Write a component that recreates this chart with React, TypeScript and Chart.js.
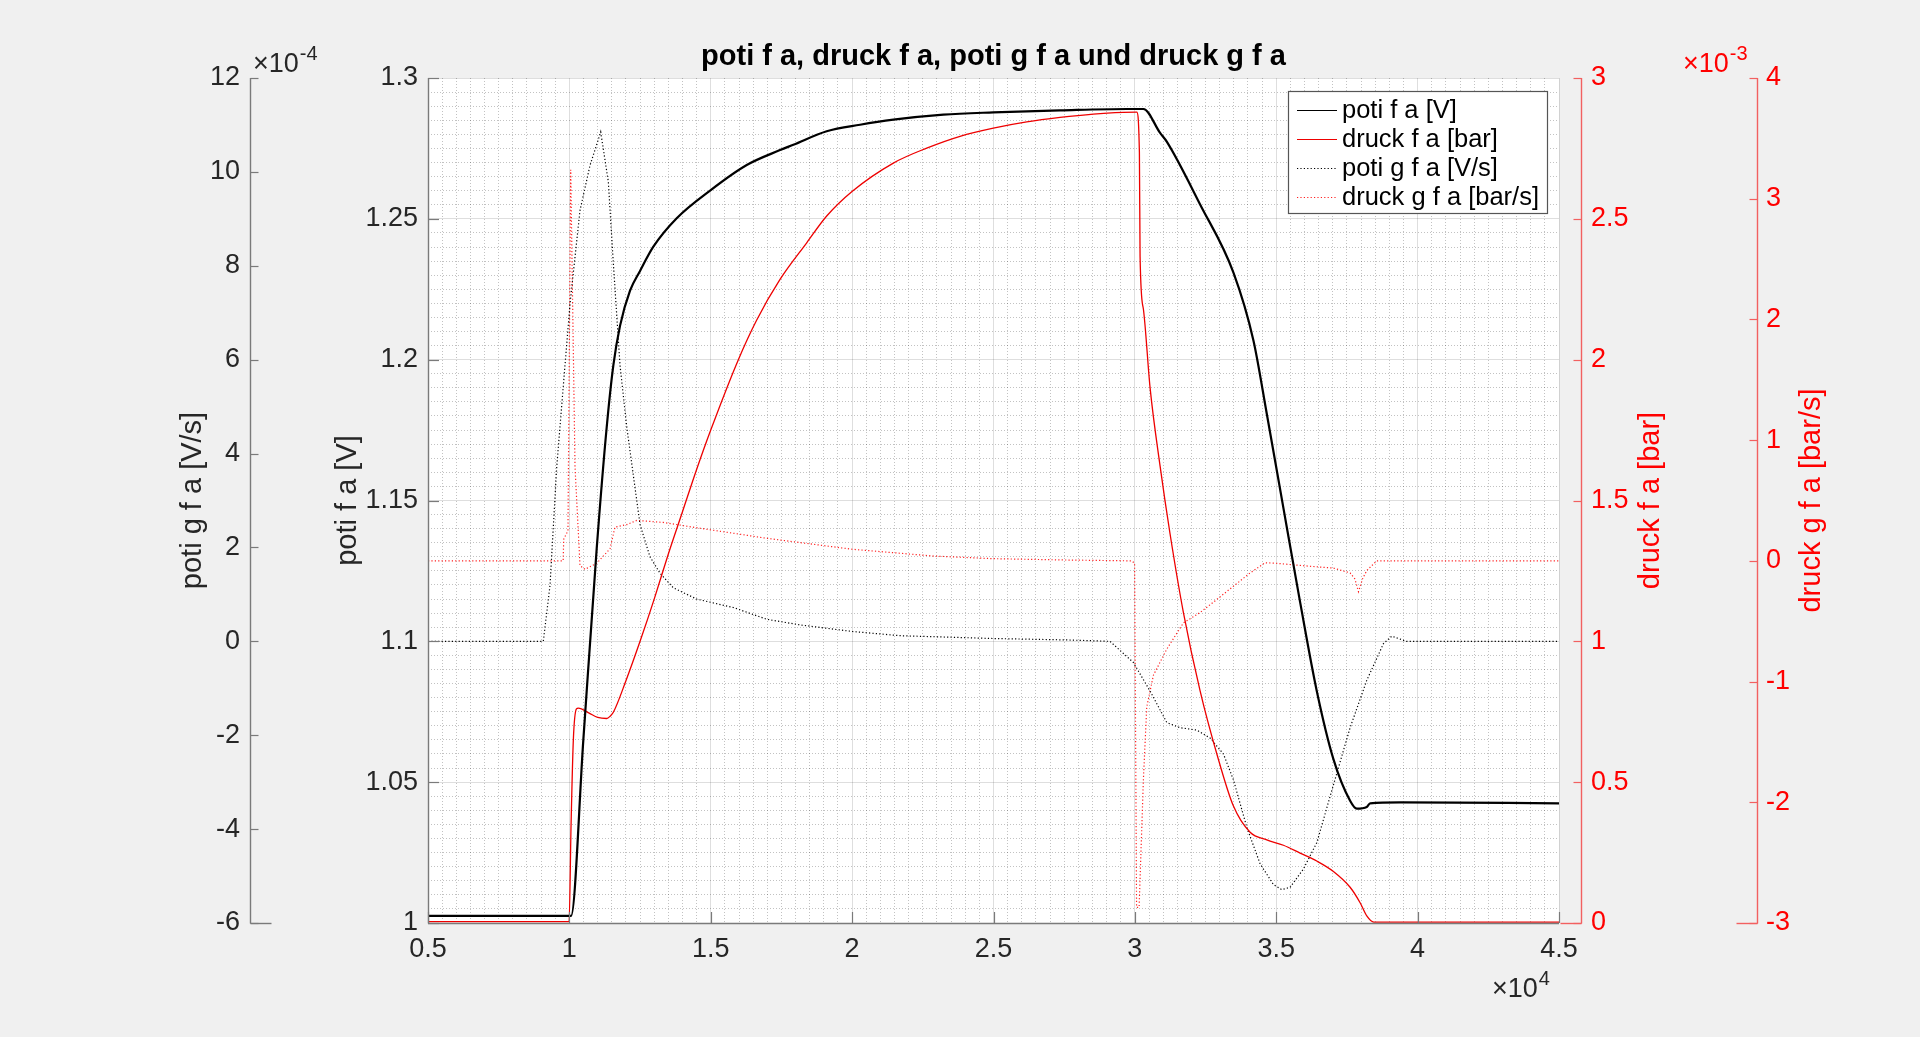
import React, { useEffect, useRef } from "react";
import { Chart, registerables } from "chart.js";

Chart.register(...registerables);

const FONT = "'Liberation Sans', Arial, Helvetica, sans-serif";

// ---------- data (x = sample index) ----------
const potiX = [5000, 10060, 10494, 10967, 11320, 11555, 11791, 12145, 12499, 12970, 13796, 15000, 16272, 17450, 17921, 19101, 20280, 21458, 23227, 24995, 27354, 29713, 30302, 30892, 31128, 32307, 33486, 34193, 34665, 35254, 35844, 36433, 37022, 37612, 37848, 38202, 38320, 39381, 45000];
const potiV = [1.0025, 1.0025, 1.065, 1.133, 1.176, 1.198, 1.212, 1.2245, 1.2315, 1.2401, 1.2502, 1.2602, 1.2691, 1.2744, 1.2763, 1.2811, 1.2834, 1.2852, 1.287, 1.2878, 1.2885, 1.289, 1.289, 1.2805, 1.2774, 1.2551, 1.2309, 1.2068, 1.1808, 1.1473, 1.1139, 1.0824, 1.0582, 1.0434, 1.0406, 1.0412, 1.0425, 1.0428, 1.0425];

const druckX = [5000, 9990, 10060, 10140, 10250, 10317, 10700, 11000, 11320, 11450, 11555, 12000, 12500, 13000, 13500, 14000, 14500, 15000, 15976, 16626, 17450, 18394, 19101, 20007, 21458, 22638, 23817, 24995, 26175, 27354, 28532, 29593, 30066, 30160, 30184, 30302, 30538, 30892, 31245, 31717, 32307, 32897, 33486, 34075, 34665, 35254, 35844, 36433, 37022, 37612, 37966, 38202, 38450, 45000];
const druckBar = [0.005, 0.005, 0.35, 0.65, 0.76, 0.763, 0.745, 0.73, 0.726, 0.735, 0.748, 0.86, 1.0, 1.15, 1.31, 1.46, 1.61, 1.75, 2.0, 2.141, 2.285, 2.415, 2.51, 2.598, 2.698, 2.751, 2.793, 2.822, 2.844, 2.86, 2.872, 2.878, 2.879, 2.736, 2.365, 2.179, 1.9, 1.622, 1.381, 1.102, 0.824, 0.601, 0.415, 0.322, 0.295, 0.276, 0.248, 0.22, 0.183, 0.127, 0.072, 0.025, 0.003, 0.003];

// poti g f a in units of 1e-4 V/s
const potiGX = [5000, 9078, 9315, 9552, 9787, 10023, 10376, 10730, 11108, 11378, 11555, 11791, 12027, 12263, 12499, 12852, 13206, 13677, 14504, 15799, 16980, 18158, 20007, 21695, 24995, 27590, 29120, 29947, 30538, 31128, 31600, 32189, 32660, 33132, 33486, 33958, 34429, 34901, 35195, 35490, 35961, 36433, 37022, 37612, 38202, 38791, 39086, 39320, 39600, 45000];
const potiG = [0, 0, 1.19, 3.71, 5.45, 7.19, 9.18, 10.14, 10.85, 9.79, 8.05, 5.88, 4.58, 3.53, 2.49, 1.8, 1.45, 1.14, 0.9, 0.72, 0.47, 0.35, 0.21, 0.12, 0.06, 0.03, 0, -0.45, -1.06, -1.73, -1.84, -1.89, -2.06, -2.4, -2.95, -3.96, -4.74, -5.18, -5.29, -5.24, -4.85, -4.29, -3.06, -1.84, -0.83, -0.05, 0.11, 0.06, 0, 0];

// druck g f a in units of 1e-3 bar/s
const druckGX = [5000, 9780, 9800, 9950, 10047, 10199, 10376, 10553, 10967, 11437, 11614, 12027, 12381, 13323, 14621, 16980, 20007, 22872, 24995, 27590, 29890, 29990, 30060, 30150, 30302, 30420, 30656, 31128, 31717, 32307, 32897, 33486, 34075, 34606, 35000, 35844, 37022, 37612, 37780, 37907, 38050, 38202, 38556, 45000];
const druckG = [0, 0, 0.18, 0.25, 3.24, 0.78, -0.04, -0.07, -0.02, 0.1, 0.28, 0.3, 0.335, 0.318, 0.27, 0.187, 0.096, 0.04, 0.018, 0.007, 0, -0.02, -2.87, -2.87, -1.81, -1.21, -0.947, -0.731, -0.514, -0.428, -0.32, -0.21, -0.1, -0.016, -0.02, -0.038, -0.06, -0.1, -0.15, -0.255, -0.15, -0.08, 0, 0];

const seriesLabels = ["poti f a [V]", "druck f a [bar]", "poti g f a [V/s]", "druck g f a [bar/s]"];
const axisTitles = ["poti f a [V]", "poti g f a [V/s]", "druck f a [bar]", "druck g f a [bar/s]"];
const chartTitle = "poti f a, druck f a, poti g f a und druck g f a";

// axis ranges / ticks
const xRange = [5000, 45000];
const xStep = 5000;
const xMinorStep = 500;
const potiRange = [1.0, 1.3];
const potiStep = 0.05;
const potiMinorStep = 0.005;
const potiGRange = [-6, 12];
const potiGStep = 2;
const druckRange = [0, 3];
const druckStep = 0.5;
const druckGRange = [-3, 4];
const druckGStep = 1;

const GRAY_AXIS = "#7a7a7a";
const RED_AXIS = "#f26060";
const TXT = "#262626";
const RED = "#ff0000";
const TICK_SIZE = 27;
const LABEL_SIZE = 29;

const fmt = (v: number) => String(parseFloat(Number(v).toFixed(4)));
const pts = (xs: number[], ys: number[]) => xs.map((x, i) => ({ x, y: ys[i] }));

const isMultiple = (v: number, step: number) => Math.abs(v / step - Math.round(v / step)) < 1e-6;

function line(ctx: CanvasRenderingContext2D, x1: number, y1: number, x2: number, y2: number, color: string, w = 1) {
  ctx.save();
  ctx.strokeStyle = color;
  ctx.lineWidth = w;
  ctx.setLineDash([]);
  ctx.beginPath();
  ctx.moveTo(x1, y1);
  ctx.lineTo(x2, y2);
  ctx.stroke();
  ctx.restore();
}

function drawExp(ctx: CanvasRenderingContext2D, x: number, base: number, exp: string, color: string) {
  ctx.save();
  ctx.fillStyle = color;
  ctx.textAlign = "left";
  ctx.textBaseline = "alphabetic";
  ctx.font = `27px ${FONT}`;
  ctx.fillText("×10", x, base);
  const w = ctx.measureText("×10").width;
  ctx.font = `20px ${FONT}`;
  ctx.fillText(exp, x + w + 1, base - 12);
  ctx.restore();
}

function drawVTitle(ctx: CanvasRenderingContext2D, text: string, cx: number, cy: number, color: string) {
  ctx.save();
  ctx.translate(cx, cy);
  ctx.rotate(-Math.PI / 2);
  ctx.fillStyle = color;
  ctx.font = `${LABEL_SIZE}px ${FONT}`;
  ctx.textAlign = "center";
  ctx.textBaseline = "middle";
  ctx.fillText(text, 0, 0);
  ctx.restore();
}

const matlabPlugin = {
  id: "matlabLook",
  beforeDraw(chart: any) {
    const { ctx, chartArea: a } = chart;
    ctx.save();
    ctx.fillStyle = "#f0f0f0";
    ctx.fillRect(0, 0, chart.width, chart.height);
    ctx.fillStyle = "#ffffff";
    ctx.fillRect(a.left, a.top, a.right - a.left, a.bottom - a.top);
    ctx.restore();
  },
  afterDatasetsDraw(chart: any) {
    const { ctx, chartArea: a, scales } = chart;
    // main axes
    line(ctx, a.left + 0.5, a.top, a.left + 0.5, a.bottom + 0.5, GRAY_AXIS, 1.4);
    line(ctx, a.left, a.bottom + 0.5, a.right, a.bottom + 0.5, GRAY_AXIS, 1.4);
    scales.y.ticks.forEach((t: any) => {
      const py = Math.round(scales.y.getPixelForValue(t.value)) + 0.5;
      line(ctx, a.left, py, a.left + 11, py, GRAY_AXIS, 1.2);
    });
    scales.x.ticks.forEach((t: any) => {
      const px = Math.round(scales.x.getPixelForValue(t.value)) + 0.5;
      line(ctx, px, a.bottom, px, a.bottom - 11, GRAY_AXIS, 1.2);
    });
    // secondary axes
    const sec = (scale: any, ax: number, dir: number, color: string) => {
      line(ctx, ax, a.top, ax, a.bottom + 0.5, color, 1.4);
      scale.ticks.forEach((t: any) => {
        const py = Math.round(scale.getPixelForValue(t.value)) + 0.5;
        line(ctx, ax, py, ax + dir * 8, py, color, 1.2);
      });
      line(ctx, ax, a.bottom + 0.5, ax + dir * 21, a.bottom + 0.5, color, 1.4);
    };
    sec(scales.y2, scales.y2.right + 0.5, 1, GRAY_AXIS);
    sec(scales.y3, a.right + 22.5, -1, RED_AXIS);
    sec(scales.y4, scales.y4.left + 0.5, -1, RED_AXIS);
  },
  afterDraw(chart: any) {
    const { ctx, chartArea: a, scales } = chart;
    const midY = (a.top + a.bottom) / 2;
    // right axis titles (read bottom-to-top as in the reference)
    drawVTitle(ctx, axisTitles[2], scales.y3.left + 92, midY, RED);
    drawVTitle(ctx, axisTitles[3], scales.y4.left + 55, midY, RED);

    // exponent labels
    drawExp(ctx, scales.y2.right + 3, a.top - 6, "-4", TXT);
    drawExp(ctx, scales.y4.left - 74, a.top - 6, "-3", RED);
    drawExp(ctx, a.right - 67, a.bottom + 74, "4", TXT);

    // legend
    const bx = a.right - 271;
    const by = a.top + 13;
    const bw = 259;
    const bh = 122;
    ctx.save();
    ctx.fillStyle = "#ffffff";
    ctx.fillRect(bx, by, bw, bh);
    ctx.strokeStyle = "#555555";
    ctx.lineWidth = 1.2;
    ctx.strokeRect(bx + 0.5, by + 0.5, bw, bh);
    ctx.font = `25.5px ${FONT}`;
    ctx.textBaseline = "middle";
    ctx.textAlign = "left";
    chart.data.datasets.forEach((ds: any, i: number) => {
      const cy = by + 19 + i * 29;
      ctx.save();
      ctx.strokeStyle = ds.borderColor;
      ctx.lineWidth = 1;
      ctx.setLineDash(ds.borderDash || []);
      ctx.beginPath();
      ctx.moveTo(bx + 9, cy + 0.5);
      ctx.lineTo(bx + 49, cy + 0.5);
      ctx.stroke();
      ctx.restore();
      ctx.fillStyle = "#000000";
      ctx.fillText(ds.label, bx + 54, cy + 1);
    });
    ctx.restore();
  },
};

export default function App() {
  const ref = useRef<HTMLCanvasElement | null>(null);

  useEffect(() => {
    document.body.style.margin = "0";
    document.body.style.background = "#f0f0f0";
    if (!ref.current) return;
    Chart.defaults.font.family = FONT;

    const tickFont = { size: TICK_SIZE, family: FONT };
    const titleFont = { size: LABEL_SIZE, family: FONT };
    const minorColor = "rgba(0,0,0,0.24)";
    const majorColor = "rgba(0,0,0,0.13)";

    const chart = new Chart(ref.current, {
      type: "line",
      data: {
        datasets: [
          {
            label: seriesLabels[0],
            data: pts(potiX, potiV),
            xAxisID: "x",
            yAxisID: "y",
            borderColor: "#000000",
            borderWidth: 2.2,
            pointRadius: 0,
            cubicInterpolationMode: "monotone",
            fill: false,
          },
          {
            label: seriesLabels[1],
            data: pts(druckX, druckBar),
            xAxisID: "x",
            yAxisID: "y3",
            borderColor: "#ee0000",
            borderWidth: 1.3,
            pointRadius: 0,
            cubicInterpolationMode: "monotone",
            fill: false,
          },
          {
            label: seriesLabels[2],
            data: pts(potiGX, potiG),
            xAxisID: "x",
            yAxisID: "y2",
            borderColor: "#000000",
            borderWidth: 1.2,
            borderDash: [1.2, 2.2],
            pointRadius: 0,
            tension: 0,
            fill: false,
          },
          {
            label: seriesLabels[3],
            data: pts(druckGX, druckG),
            xAxisID: "x",
            yAxisID: "y4",
            borderColor: "#ff2020",
            borderWidth: 1.2,
            borderDash: [1.2, 2.2],
            pointRadius: 0,
            tension: 0,
            fill: false,
          },
        ],
      },
      options: {
        animation: false,
        responsive: false,
        maintainAspectRatio: false,
        layout: { padding: 0 },
        events: [],
        plugins: {
          legend: { display: false },
          tooltip: { enabled: false },
          title: {
            display: true,
            text: chartTitle,
            fullSize: false,
            color: "#000000",
            font: { size: 29, weight: "bold", family: FONT },
            padding: { top: 40, bottom: 3.2 },
          },
        },
        scales: {
          x: {
            type: "linear",
            position: "bottom",
            min: xRange[0],
            max: xRange[1],
            weight: 0,
            ticks: {
              stepSize: xStep,
              font: tickFont,
              color: TXT,
              padding: 10,
              maxRotation: 0,
              autoSkip: false,
              callback: (v: any) => fmt(Number(v) / 1e4),
            },
            grid: { color: majorColor, lineWidth: 1, drawTicks: false },
            border: { display: false },
            afterFit: (s: any) => {
              s.height = 114;
            },
          },
          xm: {
            type: "linear",
            position: "bottom",
            min: xRange[0],
            max: xRange[1],
            weight: 5,
            ticks: { display: false, stepSize: xMinorStep },
            grid: {
              drawTicks: false,
              lineWidth: 1,
              color: (c: any) => (c.tick && isMultiple(c.tick.value, xStep) ? "rgba(0,0,0,0)" : minorColor),
            },
            border: { display: false, dash: [1, 2] },
            afterFit: (s: any) => {
              s.height = 0;
            },
          },
          y: {
            type: "linear",
            position: "left",
            min: potiRange[0],
            max: potiRange[1],
            weight: 0,
            ticks: {
              stepSize: potiStep,
              font: tickFont,
              color: TXT,
              padding: 10,
              callback: (v: any) => fmt(v),
            },
            grid: { color: majorColor, lineWidth: 1, drawTicks: false },
            border: { display: false },
            title: {
              display: true,
              text: axisTitles[0],
              font: titleFont,
              color: TXT,
              padding: { top: 80.6, bottom: 0 },
            },
            afterFit: (s: any) => {
              s.width = 178;
            },
          },
          ym: {
            type: "linear",
            position: "left",
            min: potiRange[0],
            max: potiRange[1],
            weight: -1,
            ticks: { display: false, stepSize: potiMinorStep },
            grid: {
              drawTicks: false,
              lineWidth: 1,
              color: (c: any) => (c.tick && isMultiple(c.tick.value, potiStep) ? "rgba(0,0,0,0)" : minorColor),
            },
            border: { display: false, dash: [1, 2] },
            afterFit: (s: any) => {
              s.width = 0;
            },
          },
          y2: {
            type: "linear",
            position: "left",
            min: potiGRange[0],
            max: potiGRange[1],
            weight: 1,
            ticks: {
              stepSize: potiGStep,
              font: tickFont,
              color: TXT,
              padding: 10,
              callback: (v: any) => fmt(v),
            },
            grid: { display: false, drawTicks: false },
            border: { display: false },
            title: {
              display: true,
              text: axisTitles[1],
              font: titleFont,
              color: TXT,
              padding: { top: 175.6, bottom: 0 },
            },
            afterFit: (s: any) => {
              s.width = 250;
            },
          },
          y3: {
            type: "linear",
            position: "right",
            min: druckRange[0],
            max: druckRange[1],
            weight: 0,
            ticks: {
              stepSize: druckStep,
              font: tickFont,
              color: RED,
              padding: 32,
              callback: (v: any) => fmt(v),
            },
            grid: { display: false, drawTicks: false },
            border: { display: false },
            title: { display: false },
            afterFit: (s: any) => {
              s.width = 198;
            },
          },
          y4: {
            type: "linear",
            position: "right",
            min: druckGRange[0],
            max: druckGRange[1],
            weight: 1,
            ticks: {
              stepSize: druckGStep,
              font: tickFont,
              color: RED,
              padding: 9,
              callback: (v: any) => fmt(v),
            },
            grid: { display: false, drawTicks: false },
            border: { display: false },
            title: { display: false },
            afterFit: (s: any) => {
              s.width = 163;
            },
          },
        },
      } as any,
      plugins: [matlabPlugin],
    });

    return () => {
      chart.destroy();
    };
  }, []);

  return (
    <div style={{ width: 1920, height: 1037, background: "#f0f0f0", overflow: "hidden" }}>
      <canvas ref={ref} width={1920} height={1037} style={{ display: "block", width: 1920, height: 1037 }} />
    </div>
  );
}
